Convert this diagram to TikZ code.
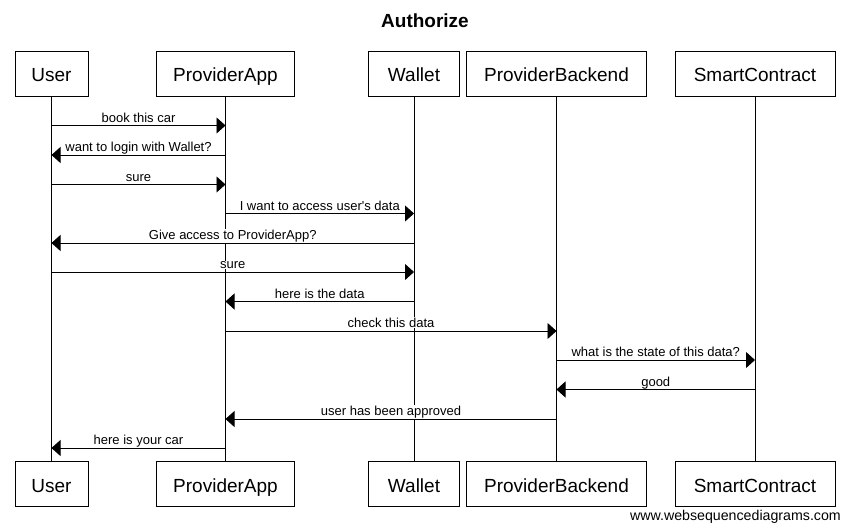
\documentclass[tikz,border=0pt]{standalone}
\usepackage{fontspec}
\setmainfont{Liberation Sans}[Ligatures=TeXOff]
\usetikzlibrary{arrows.meta,positioning}
\tikzset{actor/.style={draw,line width=0.8pt,minimum height=45pt,inner sep=0pt,text height=17pt,text depth=1pt,font=\fontsize{19}{22}\selectfont}}
\tikzset{msg/.style={->,line width=0.8pt}}
\tikzset{lbl/.style={midway,anchor=base,yshift=3.5pt,fill=white,inner sep=0.6pt,font=\fontsize{13}{15}\selectfont}}

\begin{document}
\begin{tikzpicture}[x=1pt,y=-1pt,>={Triangle[length=9pt,width=16pt]}]
        \useasboundingbox (0,0) rectangle (850,531);
        \node[font=\bfseries\fontsize{19}{22}\selectfont] (title) at (425,21) {Authorize};

        \node[actor,minimum width=73pt] (userT) at (51.5,73.5) {User};
        \node[actor,minimum width=138pt] (appT) at (225.5,73.5) {ProviderApp};
        \node[actor,minimum width=91pt] (walletT) at (414,73.5) {Wallet};
        \node[actor,minimum width=180pt] (backT) at (556.5,73.5) {ProviderBackend};
        \node[actor,minimum width=160pt] (smartT) at (755,73.5) {SmartContract};

        \node[actor,minimum width=73pt] (userB) at (51.5,484) {User};
        \node[actor,minimum width=138pt] (appB) at (225.5,484) {ProviderApp};
        \node[actor,minimum width=91pt] (walletB) at (414,484) {Wallet};
        \node[actor,minimum width=180pt] (backB) at (556.5,484) {ProviderBackend};
        \node[actor,minimum width=160pt] (smartB) at (755,484) {SmartContract};

        \node[anchor=base east,inner sep=0pt,font=\fontsize{14.2}{16}\selectfont] (site) at (841,520) {www.websequencediagrams.com};

        \draw [line width=0.8pt] (userT) to (userB);
        \draw [line width=0.8pt] (appT) to (appB);
        \draw [line width=0.8pt] (walletT) to (walletB);
        \draw [line width=0.8pt] (backT) to (backB);
        \draw [line width=0.8pt] (smartT) to (smartB);

        \coordinate (m1) at (0,125.5);
        \coordinate (m2) at (0,155);
        \coordinate (m3) at (0,184.5);
        \coordinate (m4) at (0,213.5);
        \coordinate (m5) at (0,243);
        \coordinate (m6) at (0,272);
        \coordinate (m7) at (0,301.5);
        \coordinate (m8) at (0,331);
        \coordinate (m9) at (0,360);
        \coordinate (m10) at (0,389.5);
        \coordinate (m11) at (0,419);
        \coordinate (m12) at (0,448);

        \draw [msg] (userT |- m1) to node[lbl]{book this car} (appT |- m1);
        \draw [msg] (appT |- m2) to node[lbl]{want to login with Wallet?} (userT |- m2);
        \draw [msg] (userT |- m3) to node[lbl]{sure} (appT |- m3);
        \draw [msg] (appT |- m4) to node[lbl]{I want to access user's data} (walletT |- m4);
        \draw [msg] (walletT |- m5) to node[lbl]{Give access to ProviderApp?} (userT |- m5);
        \draw [msg] (userT |- m6) to node[lbl]{sure} (walletT |- m6);
        \draw [msg] (walletT |- m7) to node[lbl]{here is the data} (appT |- m7);
        \draw [msg] (appT |- m8) to node[lbl]{check this data} (backT |- m8);
        \draw [msg] (backT |- m9) to node[lbl]{what is the state of this data?} (smartT |- m9);
        \draw [msg] (smartT |- m10) to node[lbl]{good} (backT |- m10);
        \draw [msg] (backT |- m11) to node[lbl]{user has been approved} (appT |- m11);
        \draw [msg] (appT |- m12) to node[lbl]{here is your car} (userT |- m12);
    \end{tikzpicture}
\end{document}
